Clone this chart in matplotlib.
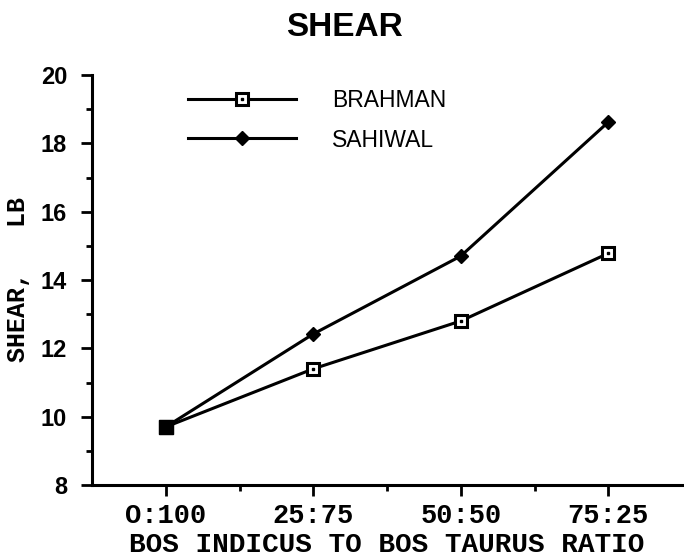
import matplotlib
matplotlib.use('Agg')
import matplotlib.pyplot as plt
from matplotlib.legend_handler import HandlerTuple
from matplotlib.ticker import FixedLocator

# ---- data ----
categories = ['O:100', '25:75', '50:50', '75:25']
brahman = [9.7, 11.4, 12.8, 14.78]
sahiwal = [9.7, 12.42, 14.7, 18.62]
y_major = [8, 10, 12, 14, 16, 18, 20]
y_minor = [9, 11, 13, 15, 17, 19]
x_minor = [0.5, 1.5, 2.5]
series_names = ['BRAHMAN', 'SAHIWAL']
title = 'SHEAR'
xlabel = 'BOS INDICUS TO BOS TAURUS RATIO'
ylabel = 'SHEAR,   LB'

W, H = 684, 560
fig = plt.figure(figsize=(W / 100, H / 100), dpi=100)
ax = fig.add_axes([92 / W, 75 / H, 590 / W, 410 / H])

x = list(range(len(categories)))
lw = 2.2
l_s, = ax.plot(x, sahiwal, color='black', lw=lw, marker='D', ms=7.0,
               mfc='black', mec='black', zorder=3, clip_on=False)
l_b, = ax.plot(x, brahman, color='black', lw=lw, marker='s', ms=9,
               mfc='white', mec='black', mew=2.2, zorder=4, clip_on=False)
l_bd, = ax.plot(x, brahman, ls='none', marker='s', ms=2.0, color='black',
                zorder=5, clip_on=False)
# shared starting point drawn filled
ax.plot(x[:1], brahman[:1], ls='none', marker='s', ms=10, color='black',
        zorder=6, clip_on=False)

ax.set_xlim(-0.5, 3.5)
ax.set_ylim(8, 20)
for s in ['top', 'right']:
    ax.spines[s].set_visible(False)
for s in ['left', 'bottom']:
    ax.spines[s].set_linewidth(2.2)

ax.set_xticks(x)
ax.set_xticklabels(categories)
ax.xaxis.set_minor_locator(FixedLocator(x_minor))
ax.set_yticks(y_major)
ax.yaxis.set_minor_locator(FixedLocator(y_minor))
ax.tick_params(which='major', direction='out', length=8, width=2.0)
ax.tick_params(which='minor', direction='out', length=4.5, width=2.0)
ax.tick_params(axis='y', which='major', pad=10)
ax.tick_params(axis='x', which='major', pad=5)
for t in ax.get_yticklabels():
    t.set_fontfamily('Liberation Sans')
    t.set_fontweight('bold')
    t.set_fontsize(17)
for t in ax.get_xticklabels():
    t.set_fontfamily('Liberation Mono')
    t.set_fontweight('bold')
    t.set_fontsize(19.5)

ax.set_xlabel(xlabel, fontfamily='Liberation Mono', fontweight='bold',
              fontsize=20, va='baseline')
ax.xaxis.set_label_coords(0.5, (485 - 552) / 410)
ax.set_ylabel(ylabel, fontfamily='Liberation Mono', fontweight='bold',
              fontsize=18, va='center')
ax.yaxis.set_label_coords((18 - 92) / 590, 0.5)

fig.text(344 / W, 1 - 27 / H, title, ha='center', va='center',
         fontsize=24, fontweight='bold', fontfamily='Liberation Sans')

leg = ax.legend([(l_b, l_bd), l_s], series_names,
                handler_map={tuple: HandlerTuple(ndivide=1)},
                loc='upper left',
                bbox_to_anchor=((188 - 92) / 590, (485 - 89) / 410),
                frameon=False, borderpad=0, borderaxespad=0,
                handlelength=4.7, handletextpad=1.6, labelspacing=0.72,
                numpoints=1,
                prop={'family': 'Liberation Sans', 'size': 16.5})

fig.savefig('out.png', dpi=100)
